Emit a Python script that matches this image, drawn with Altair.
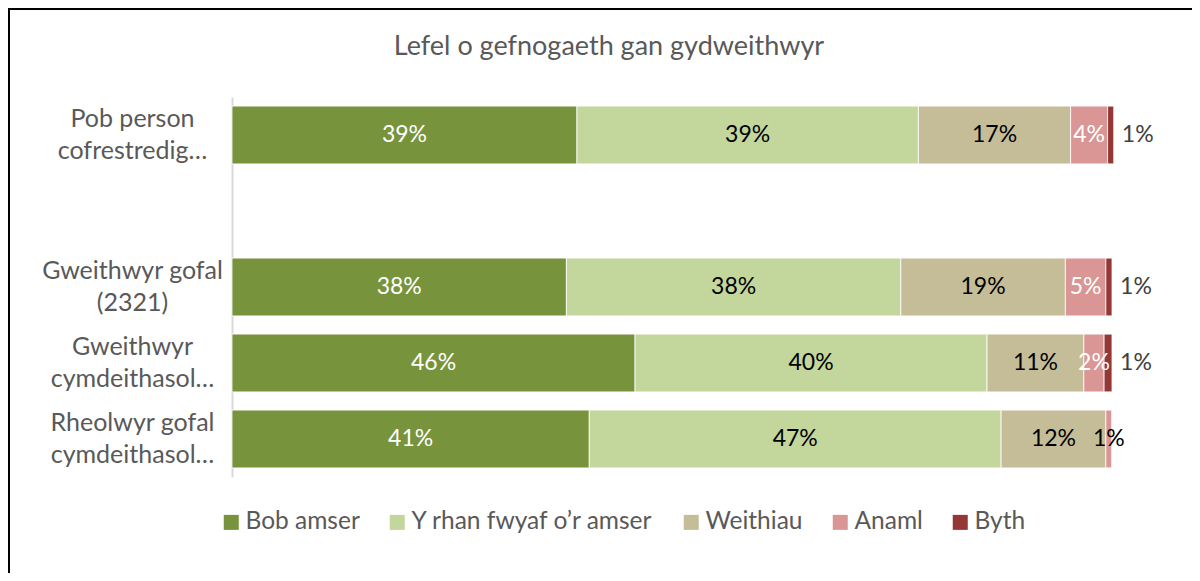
import altair as alt
import pandas as pd

categories = ["Pob person\ncofrestredig…", " ", "Gweithwyr gofal\n(2321)",
              "Gweithwyr\ncymdeithasol…", "Rheolwyr gofal\ncymdeithasol…"]
series = ["Bob amser", "Y rhan fwyaf o’r amser", "Weithiau", "Anaml", "Byth"]
colors = ["#77933C", "#C3D69B", "#C4BD97", "#D99694", "#953735"]
title_text = "Lefel o gefnogaeth gan gydweithwyr"

# values (percent) per category, in series order
pob_person = [39.2, 38.8, 17.3, 4.2, 0.7]
gweithwyr_gofal = [38.0, 38.0, 18.7, 4.6, 0.7]
gweithwyr_cymdeithasol = [45.8, 40.0, 11.0, 2.3, 0.9]
rheolwyr = [40.6, 46.8, 11.9, 0.7, 0.0]

rows = []
for cat, vals in [(categories[0], pob_person), (categories[2], gweithwyr_gofal),
                  (categories[3], gweithwyr_cymdeithasol), (categories[4], rheolwyr)]:
    for i, (s, v) in enumerate(zip(series, vals)):
        rows.append({"category": cat, "series": s, "order": i, "value": v})
df = pd.DataFrame(rows)

FONT = "Lato"

base = alt.Chart(df).transform_stack(
    stack="value", groupby=["category"], as_=["x0", "x1"],
    sort=[alt.SortField("order", order="ascending")]
).transform_calculate(
    mid="(datum.x0 + datum.x1) / 2",
    label="format(datum.value, '.0f') + '%'"
)

yenc = alt.Y("category:N", scale=alt.Scale(domain=categories, paddingInner=0.24, paddingOuter=0.12),
             axis=alt.Axis(title=None, labelExpr="split(datum.label, '\\n')", labelAlign="center",
                           labelPadding=100, labelLineHeight=32, labelFontSize=25, labelFont=FONT,
                           labelColor="#595959", ticks=False, domainColor="#D9D9D9", domainWidth=2,
                           labelBaseline="middle", labelOffset=-16, labelLimit=0))
xscale = alt.Scale(domain=[0, 100], nice=False, zero=True)

bars = base.mark_bar(stroke="white", strokeWidth=0.8).encode(
    x=alt.X("x0:Q", scale=xscale, axis=None),
    x2="x1:Q",
    y=yenc,
    color=alt.Color("series:N", scale=alt.Scale(domain=series, range=colors),
                    legend=alt.Legend(title=None, orient="none", direction="horizontal",
                                      legendX=-13, legendY=413, symbolType="square",
                                      symbolSize=225, symbolStrokeWidth=0, labelFontSize=24.5,
                                      labelFont=FONT, labelColor="#595959", columnPadding=25,
                                      labelOffset=2, padding=0, columns=5, labelLimit=0)),
    order=alt.Order("order:Q"),
)

txt_kw = dict(fontSize=23, font=FONT, align="center", baseline="middle")

white_txt = base.transform_filter(
    "datum.series == 'Bob amser' || (datum.series == 'Anaml' && datum.value >= 1.5)"
).mark_text(color="white", **txt_kw).encode(
    x=alt.X("mid:Q", scale=xscale), y=alt.Y("category:N", scale=alt.Scale(domain=categories)),
    text="label:N")

black_txt = base.transform_filter(
    "datum.series == 'Y rhan fwyaf o’r amser' || datum.series == 'Weithiau' || (datum.series == 'Anaml' && datum.value < 1.5)"
).mark_text(color="black", **txt_kw).encode(
    x=alt.X("mid:Q", scale=xscale), y=alt.Y("category:N", scale=alt.Scale(domain=categories)),
    text="label:N")

byth_txt = base.transform_filter(
    "datum.series == 'Byth' && datum.value > 0"
).mark_text(color="#404040", dx=24, **txt_kw).encode(
    x=alt.X("x1:Q", scale=xscale), y=alt.Y("category:N", scale=alt.Scale(domain=categories)),
    text="label:N")

title = alt.Chart(alt.Data(values=[{"t": title_text}])).mark_text(
    font=FONT, fontSize=27, color="#595959", align="center", baseline="middle"
).encode(x=alt.value(377), y=alt.value(-50), text="t:N")

frame_top = alt.Chart(alt.Data(values=[{}])).mark_rule(color="black", strokeWidth=2).encode(
    x=alt.value(-224), x2=alt.value(1000), y=alt.value(-88))
frame_left = alt.Chart(alt.Data(values=[{}])).mark_rule(color="black", strokeWidth=2).encode(
    x=alt.value(-223), y=alt.value(-89), y2=alt.value(600))

chart = alt.layer(bars, white_txt, black_txt, byth_txt, title, frame_top, frame_left).properties(
    width=880, height=380,
    autosize=alt.AutoSizeParams(type="none"),
    padding={"left": 224, "top": 89, "right": 80, "bottom": 96},
    background="white",
).configure_view(stroke=None)

chart.save("out.html", embed_options={"renderer": "svg", "actions": False})
